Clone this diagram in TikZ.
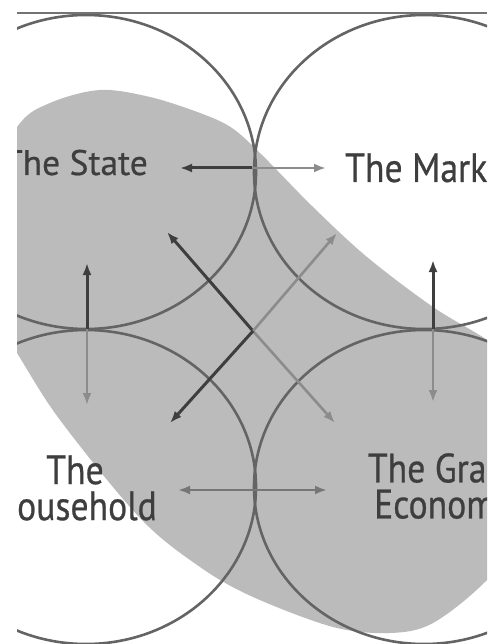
\documentclass[tikz,border=0pt]{standalone}
\usepackage{fontspec}
\setmainfont{PT Sans}[FakeStretch=0.87, FakeBold=0.6]
\newfontfamily\statefont{PT Sans}[FakeBold=0.6]
\usetikzlibrary{arrows.meta}
\definecolor{blobgray}{RGB}{187,187,187}
\definecolor{ringcol}{RGB}{100,100,100}
\definecolor{linecol}{RGB}{115,115,115}
\definecolor{txtcol}{RGB}{62,62,62}
\definecolor{darkarr}{RGB}{62,62,62}
\definecolor{lightarr}{RGB}{140,140,140}
\definecolor{midarr}{RGB}{118,118,118}
\tikzset{
  ring/.style={draw=ringcol, line width=2.6pt},
  topline/.style={draw=linecol, line width=2.4pt},
  darkhalf/.style={draw=darkarr, line width=3pt, -{Latex[length=12pt,width=9pt]}},
  lighthalf/.style={draw=lightarr, line width=2.6pt, -{Latex[length=12pt,width=9pt]}},
  midhalf/.style={draw=midarr, line width=2.8pt, -{Latex[length=12pt,width=9pt]}},
  lbl/.style={text=txtcol, inner sep=0pt, align=center},
}
\begin{document}
\begin{tikzpicture}[x=1pt,y=-1pt]
\useasboundingbox (0,0) rectangle (487,644);
\begin{scope}
\clip (17,0) rectangle (487,644);
% grey blob
\fill[blobgray] plot[smooth cycle, tension=0.55] coordinates {
  (-30,210) (17,127) (50,103) (100,90) (150,97) (200,113) (232,128) (262,155)
  (312,206) (367,257) (433,307) (487,340) (525,372) (545,440) (540,515)
  (487,580) (433,623) (390,633) (333,627) (253,597) (200,567) (140,518)
  (60,420) (17,353) (-25,285)};
% four rings
\draw[ring] (86,172) ellipse [x radius=170pt, y radius=157pt];
\draw[ring] (424,172) ellipse [x radius=170pt, y radius=157pt];
\draw[ring] (86,487) ellipse [x radius=170pt, y radius=157pt];
\draw[ring] (424,487) ellipse [x radius=170pt, y radius=157pt];
% labels
\node[lbl, font=\statefont\fontsize{35.5}{39}\selectfont, anchor=base east] (state) at (148,175) {The State};
\node[lbl, font=\fontsize{41}{40}\selectfont, anchor=base west] (market) at (345,182) {The Market};
\node[lbl, font=\fontsize{41}{40}\selectfont] (house) at (75,488) {The\\[-4pt]Household};
\node[lbl, font=\fontsize{41}{40}\selectfont] (grant) at (443,490) {The Grant\\[-4pt]Economy};
% arrow end points
\coordinate (ct) at (252,168);
\coordinate (tS) at (180,168);
\coordinate (tM) at (326,168);
\coordinate (cb) at (252,490);
\coordinate (bH) at (178,490);
\coordinate (bG) at (327,490);
\coordinate (cl) at (87,329);
\coordinate (lU) at (87,263);
\coordinate (lD) at (87,405);
\coordinate (cr) at (433,329);
\coordinate (rU) at (433,260);
\coordinate (rD) at (433,402);
\coordinate (cc) at (253,331);
\coordinate (dUL) at (167,232);
\coordinate (dDR) at (335,423);
\coordinate (dUR) at (337,233);
\coordinate (dDL) at (170,423);
% arrows
\draw[lighthalf] (ct) -- (tM);
\draw[darkhalf] (ct) -- (tS);
\draw[midhalf] (cb) -- (bH);
\draw[midhalf] (cb) -- (bG);
\draw[lighthalf] (cl) -- (lD);
\draw[darkhalf] (cl) -- (lU);
\draw[lighthalf] (cr) -- (rD);
\draw[darkhalf] (cr) -- (rU);
\draw[lighthalf] (cc) -- (dDR);
\draw[darkhalf] (cc) -- (dUL);
\draw[lighthalf] (cc) -- (dUR);
\draw[darkhalf] (cc) -- (dDL);
\end{scope}
\draw[topline] (17,13) -- (487,13);
\end{tikzpicture}
\end{document}
